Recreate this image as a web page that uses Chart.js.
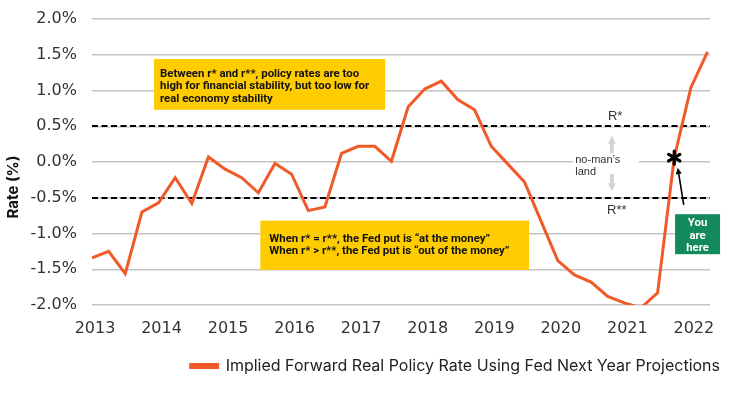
<!DOCTYPE html>
<html>
<head>
<meta charset="utf-8">
<script src="https://cdn.jsdelivr.net/npm/chart.js@4/dist/chart.umd.min.js"></script>
<style>
  html, body { margin: 0; padding: 0; background: #fff; }
  #wrap { width: 740px; height: 393px; }
</style>
</head>
<body>
<div id="wrap"><canvas id="myCanvas"></canvas></div>
<script>
'use strict';

// data (quarterly)

const quarters = [
  '2013 Q1', '2013 Q2', '2013 Q3', '2013 Q4',
  '2014 Q1', '2014 Q2', '2014 Q3', '2014 Q4',
  '2015 Q1', '2015 Q2', '2015 Q3', '2015 Q4',
  '2016 Q1', '2016 Q2', '2016 Q3', '2016 Q4',
  '2017 Q1', '2017 Q2', '2017 Q3', '2017 Q4',
  '2018 Q1', '2018 Q2', '2018 Q3', '2018 Q4',
  '2019 Q1', '2019 Q2', '2019 Q3', '2019 Q4',
  '2020 Q1', '2020 Q2', '2020 Q3', '2020 Q4',
  '2021 Q1', '2021 Q2', '2021 Q3', '2021 Q4',
  '2022 Q1', '2022 Q2'
];

const realPolicyRate = [
  -1.34, -1.25, -1.56, -0.70,
  -0.57, -0.22, -0.58, 0.07,
  -0.10, -0.22, -0.43, -0.02,
  -0.17, -0.68, -0.63, 0.12,
  0.22, 0.22, 0.01, 0.77,
  1.02, 1.13, 0.87, 0.73,
  0.22, -0.03, -0.28, -0.83,
  -1.38, -1.58, -1.68, -1.88,
  -1.97, -2.04, -1.83, 0.06,
  1.04, 1.54
];

const yTicks = [-2, -1.5, -1, -0.5, 0, 0.5, 1, 1.5, 2];
const rStar = 0.5;
const rStarStar = -0.5;
const seriesName = 'Implied Forward Real Policy Rate Using Fed Next Year Projections';

const FONT = 'Inter, "DejaVu Sans", sans-serif';
const TICK_FONT = '"DejaVu Sans", sans-serif';
const NOTE_FONT = 'Roboto, "DejaVu Sans", sans-serif';
const ORANGE = '#F05A28';
const YELLOW = '#FFCC00';
const GREEN = '#148A5C';

// helpers for drawing

function drawArrow(ctx, x1, y1, x2, y2, color, width, head) {
  const ang = Math.atan2(y2 - y1, x2 - x1);
  ctx.save();
  ctx.strokeStyle = color;
  ctx.fillStyle = color;
  ctx.lineWidth = width;
  ctx.beginPath();
  ctx.moveTo(x1, y1);
  ctx.lineTo(x2 - Math.cos(ang) * head * 0.8, y2 - Math.sin(ang) * head * 0.8);
  ctx.stroke();
  ctx.beginPath();
  ctx.moveTo(x2, y2);
  ctx.lineTo(x2 - head * Math.cos(ang - 0.45), y2 - head * Math.sin(ang - 0.45));
  ctx.lineTo(x2 - head * Math.cos(ang + 0.45), y2 - head * Math.sin(ang + 0.45));
  ctx.closePath();
  ctx.fill();
  ctx.restore();
}

function textBox(ctx, left, top, right, bottom, fill, lines, textColor, align) {
  ctx.fillStyle = fill;
  ctx.fillRect(left, top, right - left, bottom - top);
  ctx.fillStyle = textColor;
  ctx.textAlign = align;
  ctx.textBaseline = 'middle';
  lines.forEach(l => ctx.fillText(l.text, l.x, l.y));
}

// dashed r* / r** lines, drawn under the series
const thresholdLines = {
  id: 'thresholdLines',
  beforeDatasetsDraw(chart) {
    const { ctx, chartArea: a, scales: { x, y } } = chart;
    ctx.save();
    ctx.strokeStyle = '#000';
    ctx.lineWidth = 2;
    ctx.setLineDash([6, 3.5]);
    [rStar, rStarStar].forEach(v => {
      const py = Math.round(y.getPixelForValue(v));
      ctx.beginPath();
      ctx.moveTo(a.left, py);
      ctx.lineTo(a.right, py);
      ctx.stroke();
    });
    ctx.restore();

    // white patch behind "no-man's land"
    ctx.fillStyle = '#fff';
    ctx.fillRect(x.getPixelForValue(28.9), y.getPixelForValue(0.15), 66, 30);
  }
};

// text boxes, labels and arrows
const annotations = {
  id: 'annotations',
  afterDraw(chart) {
    const { ctx, chartArea: a, scales: { x, y } } = chart;
    const X = v => x.getPixelForValue(v);
    const Y = v => y.getPixelForValue(v);
    ctx.save();

    // axis title
    ctx.save();
    ctx.translate(13, (a.top + a.bottom) / 2 + 25);
    ctx.rotate(-Math.PI / 2);
    ctx.font = 'bold 15px ' + FONT;
    ctx.fillStyle = '#111';
    ctx.textAlign = 'center';
    ctx.textBaseline = 'middle';
    ctx.fillText('Rate (%)', 0, 0);
    ctx.restore();

    ctx.font = 'bold 11.4px ' + NOTE_FONT;
    // upper yellow box
    const b1l = X(3.73), b1t = Y(1.44);
    textBox(ctx, b1l, b1t, X(17.62), Y(0.73), YELLOW, [
      { text: 'Between r* and r**, policy rates are too', x: b1l + 6, y: b1t + 15 },
      { text: 'high for financial stability, but too low for', x: b1l + 6, y: b1t + 27.5 },
      { text: 'real economy stability', x: b1l + 6, y: b1t + 40 }
    ], '#111', 'left');

    // lower yellow box
    const b2l = X(10.12), b2t = Y(-0.82);
    textBox(ctx, b2l, b2t, X(26.27), Y(-1.51), YELLOW, [
      { text: 'When r* = r**, the Fed put is \u201cat the money\u201d', x: b2l + 9, y: b2t + 19 },
      { text: 'When r* > r**, the Fed put is \u201cout of the money\u201d', x: b2l + 9, y: b2t + 31 }
    ], '#111', 'left');

    // R* and R** labels
    ctx.font = '13px "Liberation Sans", Arial, sans-serif';
    ctx.fillStyle = '#333';
    ctx.textAlign = 'center';
    ctx.textBaseline = 'middle';
    ctx.fillText('R*', X(31.45), Y(0.5) - 10);
    ctx.fillText('R**', X(31.55), Y(-0.5) + 13);

    // no-man's land
    ctx.font = '11px "Liberation Sans", Arial, sans-serif';
    ctx.textAlign = 'left';
    ctx.fillText('no-man\u2019s', X(29.05), Y(0.03));
    ctx.fillText('land', X(29.05), Y(-0.14));
    drawArrow(ctx, X(31.25), Y(0.12), X(31.25), Y(0.37), '#d4d4d4', 4, 9);
    drawArrow(ctx, X(31.25), Y(-0.17), X(31.25), Y(-0.41), '#d4d4d4', 4, 9);

    // "you are here" star on the series
    const sx = X(35), sy = Y(realPolicyRate[35]);
    ctx.strokeStyle = '#000';
    ctx.lineWidth = 3.2;
    ctx.lineCap = 'round';
    for (let k = 0; k < 3; k++) {
      const ang = Math.PI / 2 + k * Math.PI / 3;
      ctx.beginPath();
      ctx.moveTo(sx - Math.cos(ang) * 6.5, sy - Math.sin(ang) * 6.5);
      ctx.lineTo(sx + Math.cos(ang) * 6.5, sy + Math.sin(ang) * 6.5);
      ctx.stroke();
    }
    ctx.lineCap = 'butt';
    drawArrow(ctx, sx + 9.5, Y(-0.6), sx + 3.5, sy + 10, '#000', 1.6, 7);

    // green box
    ctx.font = 'bold 11.4px ' + NOTE_FONT;
    const gl = X(35.05), gt = Y(-0.73);
    textBox(ctx, gl, gt, gl + 45, gt + 40, GREEN, [
      { text: 'You', x: gl + 22.5, y: gt + 8.5 },
      { text: 'are', x: gl + 22.5, y: gt + 21.5 },
      { text: 'here', x: gl + 22.5, y: gt + 33.5 }
    ], '#fff', 'center');

    ctx.restore();
  }
};

const data = {
  datasets: [{
    label: seriesName,
    data: realPolicyRate.map((v, i) => ({ x: i, y: v })),
    borderColor: ORANGE,
    backgroundColor: ORANGE,
    borderWidth: 3,
    pointRadius: 0,
    tension: 0,
    clip: 0
  }]
};

const config = {
  type: 'line',
  data: data,
  options: {
    responsive: true,
    maintainAspectRatio: false,
    animation: false,
    layout: { padding: { left: 0, right: 10, top: 19, bottom: 9 } },
    plugins: {
      legend: {
        position: 'bottom',
        align: 'end',
        labels: {
          color: '#222',
          font: { family: FONT, size: 16 },
          boxWidth: 27,
          boxHeight: 3,
          padding: 10
        }
      },
      tooltip: { enabled: false }
    },
    scales: {
      x: {
        type: 'linear',
        min: 0,
        max: 37.15,
        afterBuildTicks: s => {
          s.ticks = quarters
            .map((q, i) => ({ value: i, q: q }))
            .filter(t => t.q.endsWith('Q1'));
        },
        afterFit: s => { s.height = 43; s.paddingLeft = 0; s.paddingRight = 0; },
        grid: { display: false },
        border: { display: false },
        ticks: {
          color: '#333',
          font: { family: TICK_FONT, size: 16 },
          padding: 6,
          labelOffset: 3,
          maxRotation: 0,
          autoSkip: false,
          callback: v => quarters[v].slice(0, 4)
        }
      },
      y: {
        min: -2,
        max: 2,
        afterBuildTicks: s => { s.ticks = yTicks.map(v => ({ value: v })); },
        afterFit: s => { s.width = 92; s.paddingTop = 0; s.paddingBottom = 0; },
        grid: { color: '#c4c4c4', lineWidth: 1.5, drawTicks: false },
        border: { display: false },
        ticks: {
          color: '#333',
          font: { family: TICK_FONT, size: 16 },
          padding: 15,
          callback: v => v.toFixed(1) + '%'
        }
      },
      // empty right-hand axis: keeps the plot 30px from the edge while the legend runs wider
      yRight: {
        position: 'right',
        display: true,
        afterFit: s => { s.width = 20; s.paddingTop = 0; s.paddingBottom = 0; },
        grid: { display: false },
        border: { display: false },
        ticks: { display: false }
      }
    }
  },
  plugins: [thresholdLines, annotations]
};

const myChart = new Chart(document.getElementById('myCanvas'), config);
</script>
</body>
</html>
